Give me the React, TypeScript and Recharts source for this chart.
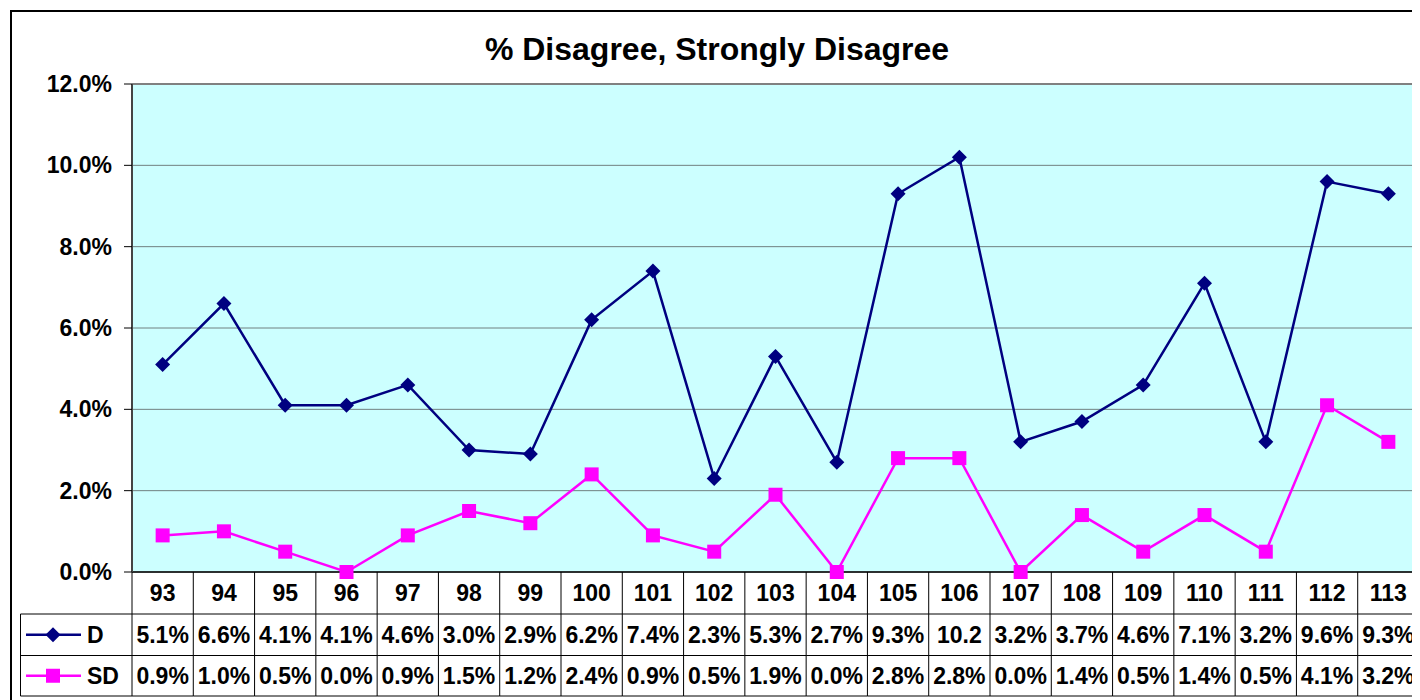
import React from 'react';
import { ComposedChart, Line, XAxis, YAxis, CartesianGrid, ReferenceLine, Customized } from 'recharts';

// survey waves on the x axis
const waves = ['93', '94', '95', '96', '97', '98', '99', '100', '101', '102', '103', '104', '105', '106', '107', '108', '109', '110', '111', '112', '113'];
// % Disagree
const dValues = [5.1, 6.6, 4.1, 4.1, 4.6, 3.0, 2.9, 6.2, 7.4, 2.3, 5.3, 2.7, 9.3, 10.2, 3.2, 3.7, 4.6, 7.1, 3.2, 9.6, 9.3];
// % Strongly Disagree
const sdValues = [0.9, 1.0, 0.5, 0.0, 0.9, 1.5, 1.2, 2.4, 0.9, 0.5, 1.9, 0.0, 2.8, 2.8, 0.0, 1.4, 0.5, 1.4, 0.5, 4.1, 3.2];
const yTicks = [0, 2, 4, 6, 8, 10, 12];

const data = waves.map((w, i) => ({ wave: w, D: dValues[i], SD: sdValues[i] }));

const FONT = 'Arial, "Liberation Sans", sans-serif';
const NAVY = '#000080';
const PINK = '#FF00FF';

const W = 1430;
const H = 720;
const PLOT_LEFT = 124;
const PLOT_RIGHT = 1411;
const PLOT_TOP = 76;
const PLOT_BOTTOM = 564;
const COL_W = (PLOT_RIGHT - PLOT_LEFT) / waves.length;
// table row borders
const ROWS = [PLOT_BOTTOM, 606, 647.5, 688];

// excel drops the % sign when the cell is too narrow
const fmtCell = (v: number) => (v >= 10 ? v.toFixed(1) : v.toFixed(1) + '%');

const txt = { fontFamily: FONT, fontSize: 23, fontWeight: 'bold' as const, fill: '#000' };

function Diamond({ cx, cy, fill }: { cx: number; cy: number; fill: string }) {
  const r = 7.5;
  return <polygon points={`${cx},${cy - r} ${cx + r},${cy} ${cx},${cy + r} ${cx - r},${cy}`} fill={fill} />;
}

function Square({ cx, cy, fill }: { cx: number; cy: number; fill: string }) {
  return <rect x={cx - 7} y={cy - 7} width={14} height={14} fill={fill} />;
}

function TableTick(props: any) {
  const { x, payload } = props;
  const i = payload.index;
  const mid = (a: number, b: number) => (a + b) / 2 + 8;
  const l = x - COL_W / 2;
  const r = x + COL_W / 2;
  return (
    <g>
      <text x={x} y={mid(ROWS[0], ROWS[1])} textAnchor="middle" {...txt}>{payload.value}</text>
      <text x={x} y={mid(ROWS[1], ROWS[2])} textAnchor="middle" {...txt}>{fmtCell(dValues[i])}</text>
      <text x={x} y={mid(ROWS[2], ROWS[3])} textAnchor="middle" {...txt}>{fmtCell(sdValues[i])}</text>
      <line x1={r} x2={r} y1={ROWS[0]} y2={ROWS[3]} stroke="#000" />
      {ROWS.slice(1).map((yy) => (
        <line key={yy} x1={l} x2={r} y1={yy} y2={yy} stroke="#000" />
      ))}
      {i === 0 && (
        <g>
          <line x1={PLOT_LEFT} x2={PLOT_LEFT} y1={ROWS[0]} y2={ROWS[3]} stroke="#000" />
          <line x1={12.5} x2={12.5} y1={ROWS[1]} y2={ROWS[3]} stroke="#000" />
          {ROWS.slice(1).map((yy) => (
            <line key={yy} x1={12.5} x2={PLOT_LEFT} y1={yy} y2={yy} stroke="#000" />
          ))}
          <line x1={18} x2={73} y1={(ROWS[1] + ROWS[2]) / 2} y2={(ROWS[1] + ROWS[2]) / 2} stroke={NAVY} strokeWidth={2.5} />
          <Diamond cx={45} cy={(ROWS[1] + ROWS[2]) / 2} fill={NAVY} />
          <text x={79} y={mid(ROWS[1], ROWS[2])} {...txt}>D</text>
          <line x1={18} x2={73} y1={(ROWS[2] + ROWS[3]) / 2} y2={(ROWS[2] + ROWS[3]) / 2} stroke={PINK} strokeWidth={2.5} />
          <Square cx={45} cy={(ROWS[2] + ROWS[3]) / 2} fill={PINK} />
          <text x={79} y={mid(ROWS[2], ROWS[3])} {...txt}>SD</text>
        </g>
      )}
    </g>
  );
}

function Title() {
  return (
    <text x={709} y={52} textAnchor="middle" fontFamily={FONT} fontSize={32} fontWeight="bold" fill="#000">
      % Disagree, Strongly Disagree
    </text>
  );
}

export default function App() {
  return (
    <div style={{ position: 'relative', width: 1412, height: 692, overflow: 'hidden' }}>
      <div style={{ position: 'absolute', left: 2, top: 2, width: 1500, height: 800, border: '2px solid #000' }} />
      <ComposedChart
        width={W}
        height={H}
        data={data}
        margin={{ top: PLOT_TOP, right: W - PLOT_RIGHT, left: 14, bottom: H - PLOT_BOTTOM - 130 }}
      >
        <CartesianGrid horizontal vertical={false} fill="#CCFFFF" stroke="#708080" strokeOpacity={1} />
        <XAxis
          dataKey="wave"
          interval={0}
          height={130}
          padding={{ left: COL_W / 2, right: COL_W / 2 }}
          tickLine={false}
          tickSize={0}
          tick={<TableTick />}
          axisLine={{ stroke: '#000', strokeWidth: 1.5 }}
        />
        <YAxis
          width={110}
          domain={[0, 12]}
          ticks={yTicks}
          tickFormatter={(v: number) => v.toFixed(1) + '%'}
          tickSize={8}
          tickMargin={12}
          tickLine={{ stroke: '#000' }}
          axisLine={{ stroke: '#444', strokeWidth: 2 }}
          tick={{ ...txt }}
        />
        <YAxis
          yAxisId="r"
          orientation="right"
          width={0}
          domain={[0, 12]}
          tick={false}
          tickLine={false}
          axisLine={{ stroke: '#808080', strokeWidth: 2 }}
        />
        <ReferenceLine y={12} stroke="#808080" strokeWidth={2} />
        <Line
          dataKey="D"
          stroke={NAVY}
          strokeWidth={2.5}
          isAnimationActive={false}
          dot={(p: any) => <Diamond key={`d${p.index}`} cx={p.cx} cy={p.cy} fill={NAVY} />}
        />
        <Line
          dataKey="SD"
          stroke={PINK}
          strokeWidth={2.5}
          isAnimationActive={false}
          dot={(p: any) => <Square key={`s${p.index}`} cx={p.cx} cy={p.cy} fill={PINK} />}
        />
        <Customized component={Title} />
      </ComposedChart>
    </div>
  );
}
